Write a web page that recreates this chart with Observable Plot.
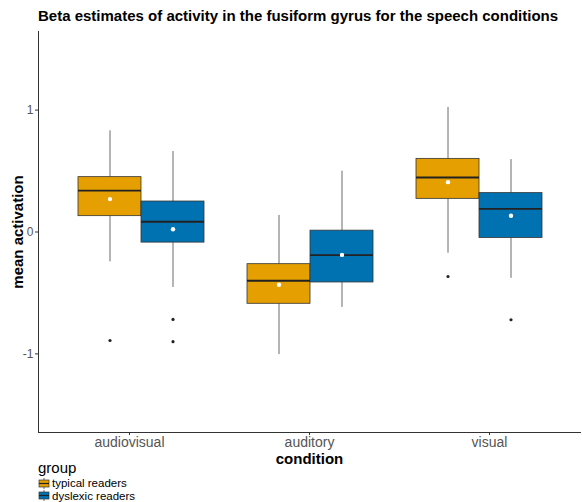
<!DOCTYPE html>
<html><head><meta charset="utf-8">
<script src="https://cdn.jsdelivr.net/npm/d3@7"></script>
<script src="https://cdn.jsdelivr.net/npm/@observablehq/plot@0.6"></script>
<style>
body{margin:0;background:#fff;font-family:"Liberation Sans",Arial,sans-serif;}
#title{position:absolute;left:38px;top:7px;font-size:15px;font-weight:bold;color:#000;white-space:nowrap;}
#chart{position:absolute;left:0;top:28px;}
#legend{position:absolute;left:38px;top:460px;font-size:11.5px;color:#000;}
#legend .t{font-size:15px;line-height:16px;margin-bottom:1px;}
#legend .row{display:flex;align-items:center;height:12.5px;line-height:12.5px;}
</style></head>
<body>
<div id="title">Beta estimates of activity in the fusiform gyrus for the speech conditions</div>
<div id="chart"></div>
<div id="legend"></div>
<script>
const conditions = ["audiovisual", "auditory", "visual"];
const groups = ["typical readers", "dyslexic readers"];
const colors = ["#E69F00", "#0072B2"];
// per group, per condition
const whiskerLow = [[-0.245, -1.006, -0.174], [-0.455, -0.619, -0.38]];
const q1 =         [[0.13, -0.589, 0.272],   [-0.087, -0.414, -0.049]];
const median =     [[0.34, -0.40, 0.447],    [0.084, -0.19, 0.19]];
const q3 =         [[0.45, -0.264, 0.60],    [0.25, 0.011, 0.319]];
const whiskerHigh =[[0.83, 0.136, 1.022],    [0.66, 0.499, 0.594]];
const means =      [[0.27, -0.433, 0.409],   [0.022, -0.188, 0.133]];
const outliers = [
  {group: "typical readers", condition: "audiovisual", value: -0.89},
  {group: "dyslexic readers", condition: "audiovisual", value: -0.717},
  {group: "dyslexic readers", condition: "audiovisual", value: -0.90},
  {group: "typical readers", condition: "visual", value: -0.365},
  {group: "dyslexic readers", condition: "visual", value: -0.72}
];
const yTicks = [-1, 0, 1];

const rows = [];
groups.forEach((g, gi) => conditions.forEach((c, ci) => rows.push({
  group: g, condition: c,
  lo: whiskerLow[gi][ci], q1: q1[gi][ci], med: median[gi][ci],
  q3: q3[gi][ci], hi: whiskerHigh[gi][ci], mean: means[gi][ci]
})));

const plot = Plot.plot({
  width: 582, height: 440,
  marginLeft: 38, marginRight: 2, marginTop: 3, marginBottom: 36,
  style: {fontFamily: "'Liberation Sans', Arial, sans-serif", background: "white"},
  fx: {domain: conditions, paddingInner: 0.25, paddingOuter: 0.225, label: null, axis: null},
  x: {domain: groups, padding: 0, axis: null},
  y: {domain: [-1.645, 1.645], ticks: yTicks, label: null, axis: null},
  color: {domain: groups, range: colors},
  marks: [
    Plot.ruleX(rows, {fx: "condition", x: "group", y1: "lo", y2: "q1", stroke: "#444", strokeWidth: 0.8}),
    Plot.ruleX(rows, {fx: "condition", x: "group", y1: "q3", y2: "hi", stroke: "#444", strokeWidth: 0.8}),
    Plot.barY(rows, {fx: "condition", x: "group", y1: "q1", y2: "q3", fill: "group", stroke: "#333", strokeWidth: 0.8}),
    Plot.tickY(rows, {fx: "condition", x: "group", y: "med", stroke: "#222", strokeWidth: 1.8}),
    Plot.dot(rows, {fx: "condition", x: "group", y: "mean", r: 2.2, fill: "white", stroke: null}),
    Plot.dot(outliers, {fx: "condition", x: "group", y: "value", r: 1.6, fill: "#222", stroke: null})
  ]
});

// Axes drawn with a second overlay plot using the same scales
const axes = Plot.plot({
  width: 582, height: 440,
  marginLeft: 38, marginRight: 2, marginTop: 3, marginBottom: 36,
  style: {fontFamily: "'Liberation Sans', Arial, sans-serif", background: "transparent"},
  x: {domain: conditions, paddingInner: 0.25, paddingOuter: 0.225, label: null, axis: null},
  y: {domain: [-1.645, 1.645], label: null, axis: null},
  marks: [
    Plot.axisY(yTicks, {tickSize: 3, tickPadding: 2, fontSize: 12, color: "#555", stroke: "#333", label: null, tickFormat: d => String(d)}),
    Plot.axisX(conditions, {tickSize: 3, tickPadding: 2, fontSize: 14, color: "#555", stroke: "#333", label: null}),
    Plot.frame({anchor: "left", stroke: "#333", strokeWidth: 1}),
    Plot.frame({anchor: "bottom", stroke: "#333", strokeWidth: 1}),
    Plot.text(["condition"], {frameAnchor: "bottom", dy: 31, fontSize: 15, fontWeight: "bold", fill: "#000"}),
    Plot.text(["mean activation"], {frameAnchor: "left", dx: -20, textAnchor: "middle", rotate: -90, fontSize: 15, fontWeight: "bold", fill: "#000"})
  ]
});

const wrap = document.getElementById("chart");
wrap.style.width = "582px"; wrap.style.height = "440px";
plot.style.position = "absolute"; plot.style.left = "0"; plot.style.top = "0";
axes.style.position = "absolute"; axes.style.left = "0"; axes.style.top = "0";
axes.style.overflow = "visible";
wrap.appendChild(plot);
wrap.appendChild(axes);

// Legend
const lg = document.getElementById("legend");
const t = document.createElement("div"); t.className = "t"; t.textContent = "group"; lg.appendChild(t);
groups.forEach((g, i) => {
  const r = document.createElement("div"); r.className = "row";
  r.innerHTML = `<svg width="12" height="11" style="margin-right:2px"><line x1="6" x2="6" y1="0" y2="11" stroke="#444" stroke-width="0.8"/><rect x="1" y="2" width="10" height="7" fill="${colors[i]}" stroke="#333" stroke-width="0.7"/><line x1="1" x2="11" y1="5.5" y2="5.5" stroke="#222" stroke-width="1.2"/></svg><span>${g}</span>`;
  lg.appendChild(r);
});
</script>
</body></html>
